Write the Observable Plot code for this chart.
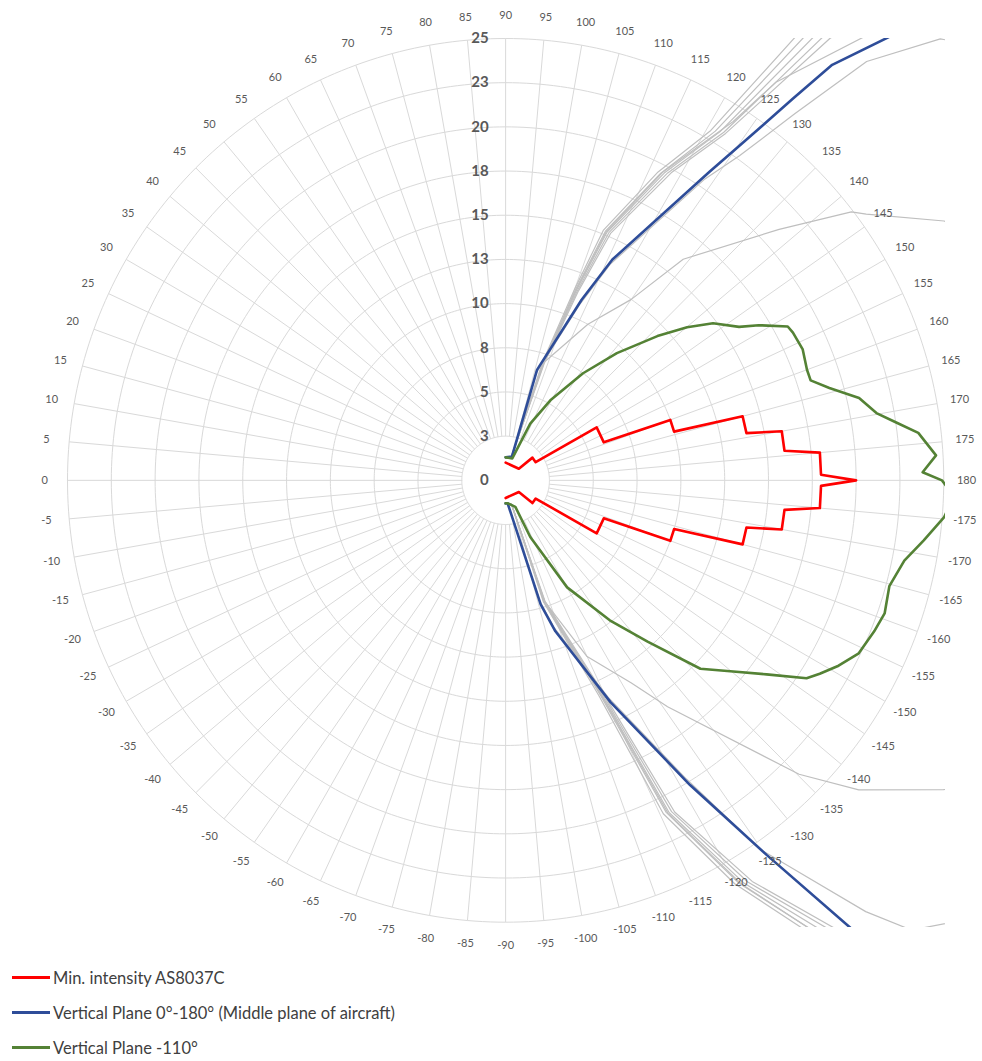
<!DOCTYPE html>
<html><head><meta charset="utf-8">
<script src="https://cdn.jsdelivr.net/npm/d3@7"></script>
<script src="https://cdn.jsdelivr.net/npm/@observablehq/plot@0.6"></script>
<style>
body{margin:0;background:#fff;font-family:Lato,sans-serif;}
#legend{padding:10px 0 0 12px;color:#404040;font-size:16.5px;}
.row{height:35px;display:flex;align-items:center;}
.sw{width:38px;height:2.5px;margin-right:3px;}
</style></head><body>
<div id="chart"></div>
<div id="legend"></div>
<script>
// ---- axis values ----
const ringValues = [2.5, 5, 7.5, 10, 12.5, 15, 17.5, 20, 22.5, 25];
const radialTicks = [0, 2.5, 5, 7.5, 10, 12.5, 15, 17.5, 20, 22.5, 25];
const radialLabels = ["0", "3", "5", "8", "10", "13", "15", "18", "20", "23", "25"];
const angleLabels = [90,95,100,105,110,115,120,125,130,135,140,145,150,155,160,165,170,175,180,
  -175,-170,-165,-160,-155,-150,-145,-140,-135,-130,-125,-120,-115,-110,-105,-100,-95,-90,
  -85,-80,-75,-70,-65,-60,-55,-50,-45,-40,-35,-30,-25,-20,-15,-10,-5,0,
  5,10,15,20,25,30,35,40,45,50,55,60,65,70,75,80,85];

// ---- series: [angle (deg), value] ----
const minIntensity = [[90,1],[139,1],[140,2],[149,2],[150,6],[159,6],[160,10],[164,10],[165,14],[169,14],
  [170,16],[174,16],[175,18],[179,18],[180,20],[-179,18],[-175,18],[-174,16],[-170,16],[-169,14],[-165,14],
  [-164,10],[-160,10],[-159,6],[-150,6],[-149,2],[-140,2],[-139,1],[-90,1]];

const verticalPlane0 = [[90,1.3],[105,1.4],[106,6.5],[113,11.1],[116,13.9],[123.7,21],[125.2,23.2],[127.2,27.1],
  [128.4,30],[131.1,33.3],[140,42],[160,50],[180,52],[-160,50],[-140,42],[-127.9,32.2],[-125.1,25.9],
  [-121.4,20.2],[-115.5,13.9],[-108.4,9],[-105.9,7.3],[-95,1.3],[-90,1.3]];

const verticalPlane110 = [[90,1.3],[107,1.3],[113.7,3.5],[119.4,5.2],[126.1,7.5],[131.4,9.6],[136.7,11.9],
  [140.1,13.5],[143.1,14.8],[146.9,15.9],[148.7,16.9],[151.6,18.3],[153,18.4],[156.4,18.5],[160,18.3],
  [162,18.3],[164.2,19.2],[167,20.7],[169.8,21.5],[171.6,22.5],[173.5,23.7],[176.7,24.6],[178.9,23.8],
  [180,24.9],[-178,25.6],[-175.2,25.1],[-171.9,24.1],[-168.7,23.2],[-164.7,22.7],[-160.8,22.9],
  [-157.9,22.7],[-154.1,22.4],[-151.1,21.7],[-148.6,21],[-146.9,20.5],[-143.6,18.5],[-140.2,16.9],
  [-136.2,15.4],[-131.6,12.2],[-126.9,9.9],[-120.1,7],[-113.7,3.5],[-110.3,1.6],[-95,1.3],[-90,1.3]];

// other measured planes (grey)
const grey1 = [[90,1.3],[104,1.4],[107.5,7],[110,11.5],[111.5,15.2],[116.5,19.5],[120.6,23],[123.4,30.1],[125,33.5],
  [150,45],[180,48],[-150,45],[-126,34],[-124,30.8],[-119.8,26.3],[-115.5,20.9],[-113.6,13.3],[-107.4,7.2],[-104,1.4],[-90,1.3]];
const grey2 = [[90,1.3],[104,1.4],[107.8,7],[110.3,11.5],[112,15.2],[117,19.5],[121.2,23.1],[124.2,30.4],[125.8,33.5],
  [150,45],[180,48],[-150,45],[-126.6,34],[-124.6,31],[-120.3,26.4],[-116,20.9],[-114,13.3],[-107.6,7.2],[-104,1.4],[-90,1.3]];
const grey3 = [[90,1.3],[104,1.4],[108,7],[110.6,11.5],[112.4,15.2],[117.5,19.6],[121.8,23.2],[125,30.6],[126.6,33.5],
  [150,45],[180,48],[-150,45],[-127.2,34],[-125.3,31.2],[-120.8,26.5],[-116.4,21],[-114.3,13.3],[-107.8,7.2],[-104,1.4],[-90,1.3]];
const grey4 = [[90,1.3],[104,1.4],[108.2,7],[110.9,11.5],[112.8,15.2],[118,19.7],[122.3,23.3],[125.8,30.9],[127.4,33.5],
  [150,45],[180,48],[-150,45],[-127.8,34],[-126,31.4],[-121.3,26.6],[-116.8,21],[-114.6,13.4],[-108,7.2],[-104,1.4],[-90,1.3]];
const grey5 = [[90,1.3],[104,1.4],[108.4,7],[111.2,11.5],[113.2,15.2],[118.5,19.8],[122.6,23.3],[126.5,31.1],[128,33.5],
  [150,45],[180,48],[-150,45],[-128.3,34],[-126.5,31.5],[-121.8,26.7],[-117.2,21.1],[-114.9,13.4],[-108.2,7.2],[-104,1.4],[-90,1.3]];
const grey6 = [[90,1.3],[104,1.4],[108,7],[110.5,11.5],[112.2,15.2],[117.2,19.6],[122.6,24.1],[124.4,27.3],[129.2,32.4],
  [135,38],[160,46],[180,48],[-150,45],[-126.3,34],[-124.8,31.3],[-120.5,26.5],[-116.2,21],[-114.2,13.3],[-107.7,7.2],[-104,1.4],[-90,1.3]];
const grey7 = [[90,1.3],[105,1.4],[106,6.3],[113,10.8],[116,13.6],[123.7,20.5],[126,22.7],[128.5,26.5],[131,31.4],
  [134.8,35.2],[150,45],[180,50],[-150,45],[-132.3,34.4],[-130.1,31.9],[-124.8,25.4],[-121.4,19.8],[-115.5,13.6],
  [-108.4,8.8],[-105.9,7.1],[-95,1.3],[-90,1.3]];
const grey8 = [[90,1.3],[104,1.4],[108,7],[118,10],[125,12.5],[129,16.1],[137.7,21.1],[142.4,24.9],[143.8,25.5],
  [149.6,29],[160,35],[180,38],[-160,35],[-150,34],[-145,30.5],[-139,26.7],[-135.2,23.6],[-125.8,15.8],
  [-122,13.5],[-115,11],[-108,7.2],[-104,1.4],[-90,1.3]];
const greySeries = [grey1, grey2, grey3, grey4, grey5, grey6, grey7, grey8];

// ---- legend ----
const legendItems = [
  {label: "Min. intensity AS8037C", color: "#ff0000"},
  {label: "Vertical Plane 0°-180° (Middle plane of aircraft)", color: "#2e4d99"},
  {label: "Vertical Plane -110°", color: "#548235"}
];

// ---- polar helpers ----
const rad = Math.PI / 180;
const px = d => -d[1] * Math.cos(d[0] * rad);
const py = d => d[1] * Math.sin(d[0] * rad);

const ringPts = ringValues.flatMap(r => d3.range(0, 361, 1).map(a => [a, r]));
const greyPts = greySeries.flatMap((s, i) => s.map(d => [d[0], d[1], i]));

const chart = Plot.plot({
  width: 982,
  height: 950,
  marginLeft: 67,
  marginRight: 37,
  marginTop: 38,
  marginBottom: 23,
  x: {domain: [-25, 25.1], axis: null},
  y: {domain: [-25.3, 25], axis: null},
  style: {fontFamily: "Lato, sans-serif", background: "#fff"},
  marks: [
    Plot.line(ringPts, {x: px, y: py, z: d => d[1], stroke: "#d9d9d9", strokeWidth: 1}),
    Plot.link(angleLabels, {
      x1: a => px([a, 2.5]), y1: a => py([a, 2.5]),
      x2: a => px([a, 25]), y2: a => py([a, 25]),
      stroke: "#d9d9d9", strokeWidth: 1
    }),
    Plot.line(greyPts, {x: px, y: py, z: d => d[2], stroke: "#bfbfbf", strokeWidth: 1.2, clip: true, curve: "linear"}),
    Plot.line(minIntensity, {x: px, y: py, stroke: "#ff0000", strokeWidth: 2.6, clip: true, curve: "linear"}),
    Plot.line(verticalPlane0, {x: px, y: py, stroke: "#2e4d99", strokeWidth: 2.6, clip: true, curve: "linear"}),
    Plot.line(verticalPlane110, {x: px, y: py, stroke: "#548235", strokeWidth: 2.6, clip: true, curve: "linear"}),
    Plot.text(radialTicks, {
      x: 0, y: r => r, text: (r, i) => radialLabels[i],
      dx: -17, textAnchor: "end", fontWeight: "bold", fontSize: 15, fill: "#595959"
    }),
    Plot.text(angleLabels, {
      x: a => px([a, 26.3]), y: a => py([a, 26.3]), text: a => String(a),
      fontSize: 11, fill: "#595959"
    })
  ]
});
document.getElementById("chart").appendChild(chart);

const legend = d3.select("#legend");
legendItems.forEach(it => {
  const row = legend.append("div").attr("class", "row");
  row.append("div").attr("class", "sw").style("background", it.color);
  row.append("span").text(it.label);
});
</script>
</body></html>
